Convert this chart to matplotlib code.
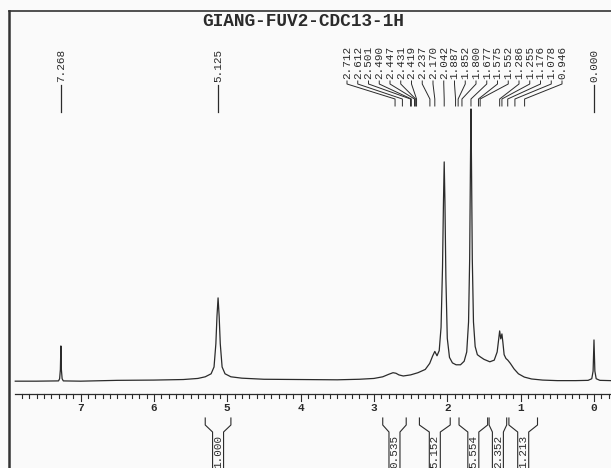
import matplotlib
matplotlib.use("Agg")
import matplotlib.pyplot as plt
import numpy as np

title = "GIANG-FUV2-CDC13-1H"

# Spectrum trace: chemical shift (ppm) and relative intensity
shift_ppm = [7.89, 7.60, 7.30, 7.285, 7.275, 7.268, 7.261, 7.251, 7.235, 7.00, 6.50, 6.00,
             5.60, 5.40, 5.30, 5.22, 5.18, 5.155, 5.14, 5.125, 5.11, 5.095, 5.07, 5.03, 4.95,
             4.80, 4.50, 4.00, 3.50, 3.20, 3.00, 2.88, 2.80, 2.74, 2.70, 2.66, 2.60, 2.50,
             2.40, 2.30, 2.24, 2.20, 2.17, 2.14, 2.11, 2.085, 2.065, 2.052, 2.042, 2.032,
             2.019, 2.00, 1.97, 1.93, 1.88, 1.82, 1.77, 1.735, 1.71, 1.695, 1.684, 1.677,
             1.670, 1.659, 1.643, 1.62, 1.59, 1.55, 1.50, 1.42, 1.36, 1.32, 1.30, 1.286,
             1.271, 1.255, 1.242, 1.225, 1.20, 1.175, 1.14, 1.09, 1.03, 0.95, 0.85, 0.70,
             0.50, 0.25, 0.08, 0.03, 0.012, 0.0, -0.012, -0.03, -0.08, -0.23]
intensity = [0.3, 0.3, 0.4, 1.2, 4.5, 13.2, 4.5, 1.2, 0.4, 0.3, 0.6, 0.7,
             0.9, 1.3, 1.9, 3.0, 5.5, 14.0, 24.0, 30.8, 24.0, 14.0, 5.5, 3.0, 1.9,
             1.4, 1.0, 0.9, 0.8, 1.0, 1.3, 1.9, 2.8, 3.4, 3.2, 2.6, 2.2, 2.6,
             3.4, 4.6, 6.8, 9.5, 11.2, 9.6, 11.5, 20.0, 42.0, 66.0, 80.6, 66.0,
             38.0, 16.0, 9.0, 7.0, 6.3, 6.3, 7.6, 11.0, 22.0, 45.0, 80.0, 100.0,
             80.0, 45.0, 22.0, 13.0, 10.0, 9.2, 8.3, 7.4, 8.0, 11.0, 15.5, 18.7,
             15.8, 17.6, 14.5, 10.0, 8.6, 8.0, 6.8, 4.8, 3.0, 1.8, 1.1, 0.7,
             0.5, 0.5, 0.6, 1.2, 4.0, 15.4, 4.0, 1.2, 0.6, 0.5]

cluster_labels = ["2.712", "2.612", "2.501", "2.490", "2.447", "2.431", "2.419",
                  "2.237", "2.170", "2.042", "1.887", "1.852", "1.800", "1.677",
                  "1.575", "1.552", "1.286", "1.255", "1.176", "1.078", "0.946"]
single_labels = ["7.268", "5.125", "0.000"]

integral_values = ["1.000", "0.535", "5.152", "5.554", "2.352", "1.213"]
integral_from = [5.30, 2.88, 2.38, 1.84, 1.43, 1.16]
integral_to = [4.95, 2.56, 1.96, 1.45, 1.19, 0.77]

tick_values = [7, 6, 5, 4, 3, 2, 1, 0]

# ---------------------------------------------------------------
W, H = 611, 468
XL, XR = 8.098, -0.232
INK = "#2b2b2b"
MONO = "Liberation Mono"

fig = plt.figure(figsize=(W / 100, H / 100), dpi=100, facecolor="#fafafa")
ax = fig.add_axes([0, 0, 1, 1])
ax.set_facecolor("#fafafa")
ax.axis("off")
ax.set_xlim(XL, XR)
ax.set_ylim(-31.5, 139.9)

def fx(ppm):
    return (XL - ppm) / (XL - XR)

def fpx(px):
    return px / W

def fy(py):
    return 1 - py / H

T = ax.transAxes

# spectrum
ax.plot(shift_ppm, intensity, color=INK, lw=0.9, solid_joinstyle="round")

# frame (partly cropped in the scan)
ax.plot([fpx(9), fpx(9)], [fy(11), fy(470)], color="#333333", lw=1.8, transform=T)
ax.plot([fpx(9), fpx(612)], [fy(11), fy(11)], color="#333333", lw=1.2, transform=T)

# title
ax.text(fpx(303), fy(22), title, transform=T, ha="center", va="center",
        fontfamily=MONO, fontweight="bold", fontsize=12.8, color=INK)

# ppm axis
ax.plot([fx(7.89), fpx(612)], [fy(394), fy(394)], color=INK, lw=0.9, transform=T)
for k in range(-2, 79):
    p = k / 10
    major = (k % 10 == 0)
    ax.plot([fx(p), fx(p)], [fy(394), fy(401 if major else 397.5)],
            color=INK, lw=0.8, transform=T)
for t in tick_values:
    ax.text(fx(t), fy(408), str(t), transform=T, ha="center", va="center",
            fontfamily=MONO, fontweight="bold", fontsize=8, color=INK)

LABEL_SIZE = 7.9

# single peak labels
for lab in single_labels:
    p = float(lab)
    ax.text(fx(p), fy(82), lab, transform=T, rotation=90, ha="center", va="bottom",
            fontfamily=MONO, fontsize=LABEL_SIZE, color=INK)
    ax.plot([fx(p), fx(p)], [fy(85), fy(112)], color=INK, lw=0.9, transform=T)

# clustered peak labels with fan lines
n = len(cluster_labels)
x0, x1 = 347, 562
for i, lab in enumerate(cluster_labels):
    lx = fpx(x0 + (x1 - x0) * i / (n - 1))
    px_ = fx(float(lab))
    ax.text(lx, fy(79), lab, transform=T, rotation=90, ha="center", va="bottom",
            fontfamily=MONO, fontsize=LABEL_SIZE, color=INK)
    ax.plot([lx, lx, px_, px_], [fy(81), fy(84), fy(99), fy(106)],
            color=INK, lw=0.7, transform=T)

# integrals
for val, a, b in zip(integral_values, integral_from, integral_to):
    xl, xr = fx(a), fx(b)
    c = (xl + xr) / 2
    d = fpx(5.5)
    ax.plot([xl, xl, c - d, c - d], [fy(418), fy(425), fy(432), fy(470)],
            color=INK, lw=0.8, transform=T)
    ax.plot([xr, xr, c + d, c + d], [fy(418), fy(425), fy(432), fy(470)],
            color=INK, lw=0.8, transform=T)
    ax.text(c, fy(435), val, transform=T, rotation=90, ha="center", va="top",
            fontfamily=MONO, fontsize=LABEL_SIZE, color=INK)

fig.savefig("out.png", dpi=100, facecolor=fig.get_facecolor())
